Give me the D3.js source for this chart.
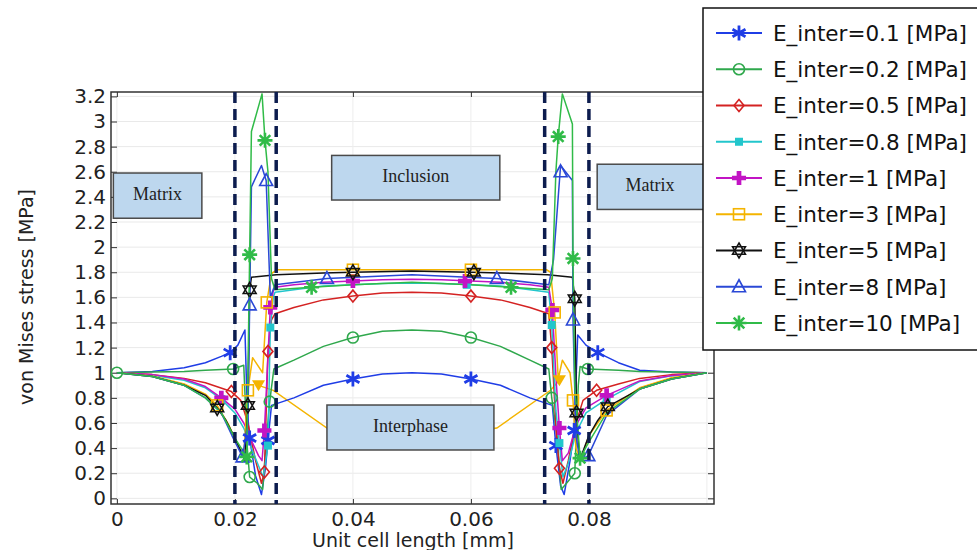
<!DOCTYPE html>
<html>
<head>
<meta charset="utf-8">
<script src="https://cdn.jsdelivr.net/npm/d3@7/dist/d3.min.js"></script>
<style>
body{margin:0;background:#fff}
svg{display:block}
</style>
</head>
<body>
<script>
var WIDTH = 977, HEIGHT = 550

// axis ticks
var xTicks = [0, 0.02, 0.04, 0.06, 0.08]
var xTickLabels = ["0", "0.02", "0.04", "0.06", "0.08"]
var yTicks = [0, 0.2, 0.4, 0.6, 0.8, 1, 1.2, 1.4, 1.6, 1.8, 2, 2.2, 2.4, 2.6, 2.8, 3, 3.2]
var yTickLabels = ["0", "0.2", "0.4", "0.6", "0.8", "1", "1.2", "1.4", "1.6", "1.8", "2", "2.2", "2.4", "2.6", "2.8", "3", "3.2"]

// phase boundaries (dashed)
var dividers = [0.02, 0.027, 0.0725, 0.08]

var names = ["E_inter=0.1 [MPa]", "E_inter=0.2 [MPa]", "E_inter=0.5 [MPa]", "E_inter=0.8 [MPa]",
	"E_inter=1 [MPa]", "E_inter=3 [MPa]", "E_inter=5 [MPa]", "E_inter=8 [MPa]", "E_inter=10 [MPa]"]

// series values [x (mm), stress (MPa)]
var e01 = [[0,1],[0.006,1.01],[0.0114,1.04],[0.015,1.08],[0.0177,1.13],[0.0192,1.16],[0.0205,1.22],[0.0217,1.34],[0.0221,0.7],[0.0225,0.48],[0.0235,0.18],[0.0245,0.03],[0.0252,0.25],[0.0256,0.46],[0.0262,0.74],[0.03,0.8],[0.035,0.9],[0.04,0.95],[0.045,0.99],[0.05,1.0],[0.055,0.99],[0.06,0.95],[0.065,0.9],[0.07,0.8],[0.0738,0.74],[0.0744,0.42],[0.0752,0.1],[0.0758,0.03],[0.0768,0.3],[0.0775,0.54],[0.0781,1.3],[0.0795,1.22],[0.0815,1.16],[0.085,1.08],[0.0886,1.02],[0.094,1.005],[0.1,1]]
var e01Marks = [[0.0192,1.16],[0.0225,0.48],[0.0256,0.46],[0.04,0.95],[0.06,0.95],[0.0744,0.42],[0.0775,0.54],[0.0815,1.16]]

var e02 = [[0,1],[0.006,1.005],[0.0114,1.01],[0.015,1.02],[0.0197,1.03],[0.0215,1.06],[0.0221,0.4],[0.0225,0.17],[0.0238,0.12],[0.0247,0.07],[0.0254,0.5],[0.0259,0.77],[0.0266,1.03],[0.03,1.1],[0.035,1.21],[0.04,1.28],[0.045,1.33],[0.05,1.34],[0.055,1.33],[0.06,1.28],[0.065,1.21],[0.07,1.1],[0.0732,1.03],[0.0737,0.8],[0.0746,0.5],[0.0753,0.07],[0.0762,0.12],[0.0776,0.2],[0.0782,0.9],[0.0785,1.05],[0.0798,1.03],[0.085,1.02],[0.0886,1.01],[0.094,1.005],[0.1,1]]
var e02Marks = [[0,1],[0.0197,1.03],[0.0225,0.17],[0.0259,0.77],[0.04,1.28],[0.06,1.28],[0.0737,0.8],[0.0776,0.2],[0.0798,1.03]]

var e05 = [[0,1],[0.006,0.985],[0.0114,0.955],[0.015,0.92],[0.0194,0.85],[0.021,0.78],[0.0222,0.6],[0.0235,0.3],[0.0245,0.12],[0.025,0.21],[0.0256,1.17],[0.0262,1.42],[0.0268,1.47],[0.03,1.52],[0.035,1.58],[0.04,1.61],[0.045,1.635],[0.05,1.64],[0.055,1.635],[0.06,1.61],[0.065,1.58],[0.07,1.52],[0.0732,1.47],[0.0737,1.2],[0.0745,0.5],[0.075,0.24],[0.0756,0.12],[0.0765,0.3],[0.0778,0.6],[0.079,0.78],[0.0813,0.86],[0.085,0.91],[0.0886,0.955],[0.094,0.985],[0.1,1]]
var e05Marks = [[0.0194,0.85],[0.025,0.21],[0.0256,1.17],[0.04,1.61],[0.06,1.61],[0.0737,1.2],[0.075,0.24],[0.0813,0.86]]

var e08 = [[0,1],[0.006,0.98],[0.0114,0.94],[0.015,0.88],[0.0177,0.79],[0.02,0.68],[0.0215,0.56],[0.0228,0.4],[0.024,0.26],[0.0248,0.17],[0.0256,0.42],[0.026,1.36],[0.0265,1.6],[0.0268,1.64],[0.03,1.66],[0.035,1.69],[0.04,1.7],[0.045,1.71],[0.05,1.715],[0.055,1.71],[0.06,1.7],[0.065,1.69],[0.07,1.66],[0.0732,1.64],[0.0737,1.38],[0.0744,0.7],[0.075,0.44],[0.0756,0.17],[0.0765,0.28],[0.0778,0.52],[0.0795,0.68],[0.083,0.79],[0.0886,0.93],[0.094,0.975],[0.1,1]]
var e08Marks = [[0.0177,0.79],[0.0256,0.42],[0.026,1.36],[0.0593,1.7],[0.0737,1.38],[0.075,0.44],[0.083,0.79]]

var e1 = [[0,1],[0.006,0.985],[0.0114,0.95],[0.015,0.89],[0.0177,0.8],[0.02,0.71],[0.0215,0.6],[0.0228,0.46],[0.024,0.34],[0.0246,0.3],[0.025,0.54],[0.026,1.52],[0.0265,1.65],[0.0268,1.68],[0.03,1.7],[0.035,1.72],[0.04,1.73],[0.045,1.74],[0.05,1.745],[0.055,1.74],[0.06,1.73],[0.065,1.72],[0.07,1.7],[0.0732,1.68],[0.0738,1.5],[0.0745,0.9],[0.075,0.56],[0.0755,0.3],[0.0765,0.36],[0.0778,0.58],[0.0795,0.72],[0.083,0.82],[0.0886,0.935],[0.094,0.978],[0.1,1]]
var e1Marks = [[0.0177,0.8],[0.025,0.54],[0.026,1.52],[0.04,1.73],[0.059,1.73],[0.0738,1.5],[0.075,0.56],[0.083,0.82]]

var e3 = [[0,1],[0.006,0.975],[0.0114,0.91],[0.015,0.83],[0.017,0.74],[0.019,0.58],[0.0205,0.42],[0.0215,0.34],[0.0222,0.86],[0.023,1.12],[0.0247,1.0],[0.0254,1.56],[0.0262,1.79],[0.0272,1.82],[0.035,1.82],[0.05,1.82],[0.065,1.82],[0.0728,1.82],[0.0735,1.8],[0.0742,1.48],[0.0748,0.95],[0.0755,1.1],[0.0768,1.0],[0.0773,0.78],[0.0778,0.4],[0.0786,0.3],[0.08,0.5],[0.083,0.7],[0.0886,0.88],[0.094,0.96],[0.1,1]]
var e3Marks = [[0.017,0.74],[0.0222,0.86],[0.0254,1.56],[0.04,1.82],[0.06,1.82],[0.0742,1.48],[0.0773,0.78],[0.083,0.7]]
// second yellow trace running under the interphase label
var e3Low = [[0.024,0.9],[0.0265,0.86],[0.0356,0.56],[0.05,0.47],[0.0644,0.56],[0.0735,0.86],[0.075,0.94]]
var e3LowMarks = [[0.024,0.9],[0.075,0.94]]

var e5 = [[0,1],[0.006,0.97],[0.0114,0.9],[0.015,0.82],[0.017,0.72],[0.0185,0.62],[0.02,0.48],[0.0217,0.3],[0.0222,0.74],[0.0225,1.66],[0.0228,1.76],[0.027,1.78],[0.035,1.795],[0.04,1.8],[0.05,1.81],[0.06,1.8],[0.065,1.795],[0.073,1.78],[0.0772,1.76],[0.0776,1.59],[0.0779,0.68],[0.0784,0.3],[0.08,0.5],[0.0815,0.62],[0.0832,0.73],[0.0886,0.87],[0.094,0.95],[0.1,1]]
var e5Marks = [[0.017,0.72],[0.0222,0.74],[0.0225,1.66],[0.04,1.8],[0.0605,1.8],[0.0776,1.59],[0.0779,0.68],[0.0832,0.73]]

var e8 = [[0,1],[0.006,0.97],[0.0114,0.9],[0.015,0.8],[0.0177,0.68],[0.0195,0.5],[0.0213,0.33],[0.0222,0.6],[0.0225,1.54],[0.0228,2.48],[0.0245,2.65],[0.0253,2.53],[0.026,1.6],[0.0268,1.7],[0.0356,1.75],[0.05,1.78],[0.0644,1.75],[0.0732,1.7],[0.074,1.9],[0.0752,2.65],[0.0772,2.53],[0.0773,1.42],[0.0778,0.5],[0.0785,0.3],[0.0799,0.34],[0.083,0.66],[0.0886,0.87],[0.094,0.95],[0.1,1]]
var e8Marks = [[0.0213,0.33],[0.0225,1.54],[0.0253,2.53],[0.0356,1.75],[0.0644,1.75],[0.0752,2.6],[0.0773,1.42],[0.0799,0.34]]

var e10 = [[0,1],[0.006,0.97],[0.0114,0.9],[0.015,0.8],[0.0177,0.68],[0.02,0.48],[0.022,0.33],[0.0225,1.94],[0.0228,2.92],[0.0246,3.22],[0.0251,2.85],[0.0256,2.6],[0.0262,1.75],[0.0268,1.66],[0.033,1.68],[0.04,1.7],[0.05,1.72],[0.06,1.7],[0.0668,1.68],[0.0732,1.66],[0.0738,1.75],[0.0744,2.6],[0.0748,2.88],[0.0755,3.22],[0.0772,2.98],[0.0773,1.91],[0.0776,0.9],[0.0785,0.32],[0.08,0.45],[0.083,0.68],[0.0886,0.87],[0.094,0.95],[0.1,1]]
var e10Marks = [[0.022,0.33],[0.0225,1.94],[0.0251,2.85],[0.033,1.68],[0.0668,1.68],[0.0748,2.88],[0.0773,1.91],[0.0785,0.32]]

// region labels [text, x0, x1, yTop, yBottom] in data units
var regions = [
	["Matrix", -0.0006, 0.0144, 2.59, 2.23],
	["Inclusion", 0.0364, 0.0649, 2.73, 2.375],
	["Matrix", 0.0814, 0.1022, 2.66, 2.30],
	["Interphase", 0.0356, 0.0639, 0.743, 0.385]
]

var colors = ["#1f3de6", "#2fa84c", "#d42222", "#22c6cc", "#c214c4", "#f4b400", "#111111", "#2a48d6", "#30bb48"]
var symbols = ["ast6", "circle", "diamond", "fsquare", "plus", "square", "hexagram", "triangle", "ast8"]
var seriesData = [e01, e02, e05, e08, e1, e3, e5, e8, e10]
var seriesMarks = [e01Marks, e02Marks, e05Marks, e08Marks, e1Marks, e3Marks, e5Marks, e8Marks, e10Marks]

var plot = {left: 111, top: 92, right: 714, bottom: 504}

var x = d3.scaleLinear().domain([-0.001, 0.1012]).range([plot.left, plot.right])
var y = d3.scaleLinear().domain([-0.045, 3.235]).range([plot.bottom, plot.top])

var svg = d3.select('body').append('svg')
	.attr('width', WIDTH).attr('height', HEIGHT)
	.style('font-family', '"DejaVu Sans", sans-serif')

svg.append('rect').attr('width', WIDTH).attr('height', HEIGHT).attr('fill', '#fff')

// grid
var grid = svg.append('g')
grid.selectAll('.hg').data(yTicks).enter().append('line')
	.attr('x1', plot.left).attr('x2', plot.right)
	.attr('y1', function(d){ return y(d) }).attr('y2', function(d){ return y(d) })
	.attr('stroke', '#e9e9e9').attr('stroke-width', 1)
grid.selectAll('.vg').data(xTicks.concat([0.1])).enter().append('line')
	.attr('y1', plot.top).attr('y2', plot.bottom)
	.attr('x1', function(d){ return x(d) }).attr('x2', function(d){ return x(d) })
	.attr('stroke', '#ededed').attr('stroke-width', 1)

// axes
var axL = svg.append('g').attr('transform', 'translate(' + plot.left + ',0)')
	.call(d3.axisLeft(y).tickValues(yTicks).tickSize(-6).tickPadding(5)
		.tickFormat(function(d, i){ return yTickLabels[i] }))
var axR = svg.append('g').attr('transform', 'translate(' + plot.right + ',0)')
	.call(d3.axisRight(y).tickValues(yTicks).tickSize(-6).tickFormat(''))
var axB = svg.append('g').attr('transform', 'translate(0,' + plot.bottom + ')')
	.call(d3.axisBottom(x).tickValues(xTicks).tickSize(-5).tickPadding(8)
		.tickFormat(function(d, i){ return xTickLabels[i] }))
var axT = svg.append('g').attr('transform', 'translate(0,' + plot.top + ')')
	.call(d3.axisTop(x).tickValues(xTicks).tickSize(-5).tickFormat(''))

svg.selectAll('.domain').remove()
svg.selectAll('.tick line').attr('stroke', '#333')
svg.selectAll('.tick text').attr('font-size', 20).attr('fill', '#222')
	.attr('font-family', '"DejaVu Sans", sans-serif')

svg.append('rect')
	.attr('x', plot.left).attr('y', plot.top)
	.attr('width', plot.right - plot.left).attr('height', plot.bottom - plot.top)
	.attr('fill', 'none').attr('stroke', '#333').attr('stroke-width', 1.5)

// titles
svg.append('text')
	.attr('transform', 'translate(33,297) rotate(-90)')
	.attr('text-anchor', 'middle').attr('font-size', 19).attr('fill', '#222')
	.text('von Mises stress [MPa]')
svg.append('text')
	.attr('x', 413).attr('y', 547)
	.attr('text-anchor', 'middle').attr('font-size', 19).attr('fill', '#222')
	.text('Unit cell length [mm]')

function drawMarker(sel, sym, color){
	if (sym === 'ast6') {
		sel.append('path').attr('d', 'M0,-7.5V7.5M-6.5,-3.75L6.5,3.75M-6.5,3.75L6.5,-3.75')
			.attr('stroke', color).attr('stroke-width', 2.8).attr('fill', 'none')
	} else if (sym === 'ast8') {
		sel.append('path').attr('d', 'M0,-7.5V7.5M-7.5,0H7.5M-5.3,-5.3L5.3,5.3M-5.3,5.3L5.3,-5.3')
			.attr('stroke', color).attr('stroke-width', 2.6).attr('fill', 'none')
	} else if (sym === 'circle') {
		sel.append('circle').attr('r', 5.5).attr('fill', 'none').attr('stroke', color).attr('stroke-width', 1.6)
	} else if (sym === 'diamond') {
		sel.append('path').attr('d', 'M0,-6L5,0L0,6L-5,0Z').attr('fill', 'none').attr('stroke', color).attr('stroke-width', 1.6)
	} else if (sym === 'fsquare') {
		sel.append('rect').attr('x', -4).attr('y', -4).attr('width', 8).attr('height', 8).attr('fill', color)
	} else if (sym === 'plus') {
		sel.append('path').attr('d', d3.symbol(d3.symbolCross, 110)()).attr('fill', color)
	} else if (sym === 'square') {
		sel.append('rect').attr('x', -5.5).attr('y', -5.5).attr('width', 11).attr('height', 11)
			.attr('fill', 'none').attr('stroke', color).attr('stroke-width', 1.6)
	} else if (sym === 'hexagram') {
		sel.append('path').attr('d', 'M0,-7.5L6.5,3.75L-6.5,3.75ZM0,7.5L6.5,-3.75L-6.5,-3.75Z')
			.attr('fill', 'none').attr('stroke', color).attr('stroke-width', 1.5)
	} else if (sym === 'triangle') {
		sel.append('path').attr('d', 'M0,-7L6.5,5L-6.5,5Z').attr('fill', 'none').attr('stroke', color).attr('stroke-width', 1.6)
	} else if (sym === 'dtri') {
		sel.append('path').attr('d', 'M0,6L6.5,-5L-6.5,-5Z').attr('fill', color)
	}
}

var line = d3.line().x(function(d){ return x(d[0]) }).y(function(d){ return y(d[1]) })

var lines = svg.append('g')
// extra yellow trace first (under the rest)
lines.append('path').datum(e3Low).attr('d', line)
	.attr('fill', 'none').attr('stroke', colors[5]).attr('stroke-width', 1.4)
seriesData.forEach(function(data, i){
	lines.append('path').datum(data).attr('d', line)
		.attr('fill', 'none').attr('stroke', colors[i]).attr('stroke-width', 1.5)
		.attr('stroke-linejoin', 'round')
})

var marks = svg.append('g')
e3LowMarks.forEach(function(p){
	drawMarker(marks.append('g').attr('transform', 'translate(' + x(p[0]) + ',' + y(p[1]) + ')'), 'dtri', colors[5])
})
seriesMarks.forEach(function(list, i){
	list.forEach(function(p){
		drawMarker(marks.append('g').attr('transform', 'translate(' + x(p[0]) + ',' + y(p[1]) + ')'), symbols[i], colors[i])
	})
})

// phase boundaries
svg.append('g').selectAll('line').data(dividers).enter().append('line')
	.attr('x1', function(d){ return x(d) }).attr('x2', function(d){ return x(d) })
	.attr('y1', plot.top).attr('y2', plot.bottom)
	.attr('stroke', '#0c1c4e').attr('stroke-width', 3.5).attr('stroke-dasharray', '11,6')

// region boxes
var boxes = svg.append('g').selectAll('g').data(regions).enter().append('g')
boxes.append('rect')
	.attr('x', function(d){ return x(d[1]) }).attr('y', function(d){ return y(d[3]) })
	.attr('width', function(d){ return x(d[2]) - x(d[1]) })
	.attr('height', function(d){ return y(d[4]) - y(d[3]) })
	.attr('fill', '#bdd7ee').attr('stroke', '#4a4a4a').attr('stroke-width', 1.5)
boxes.append('text')
	.attr('x', function(d){ return (x(d[1]) + Math.min(x(d[2]), 703)) / 2 })
	.attr('y', function(d){ return (y(d[3]) + y(d[4])) / 2 - 2 })
	.attr('dy', '0.35em').attr('text-anchor', 'middle')
	.attr('font-family', '"Liberation Serif", "Times New Roman", serif')
	.attr('font-size', 18).attr('fill', '#222')
	.text(function(d){ return d[0] })

// legend
var legend = svg.append('g').attr('transform', 'translate(703,8)')
legend.append('rect').attr('width', 300).attr('height', 342)
	.attr('fill', '#fff').attr('stroke', '#111').attr('stroke-width', 1.5)
names.forEach(function(name, i){
	var row = legend.append('g').attr('transform', 'translate(0,' + (25 + i * 36.25) + ')')
	row.append('line').attr('x1', 13).attr('x2', 59).attr('stroke', colors[i]).attr('stroke-width', 2)
	drawMarker(row.append('g').attr('transform', 'translate(36,0)'), symbols[i], colors[i])
	row.append('text').attr('x', 70).attr('dy', '0.36em')
		.attr('font-size', 21.5).attr('fill', '#111').text(name)
})
</script>
</body>
</html>
